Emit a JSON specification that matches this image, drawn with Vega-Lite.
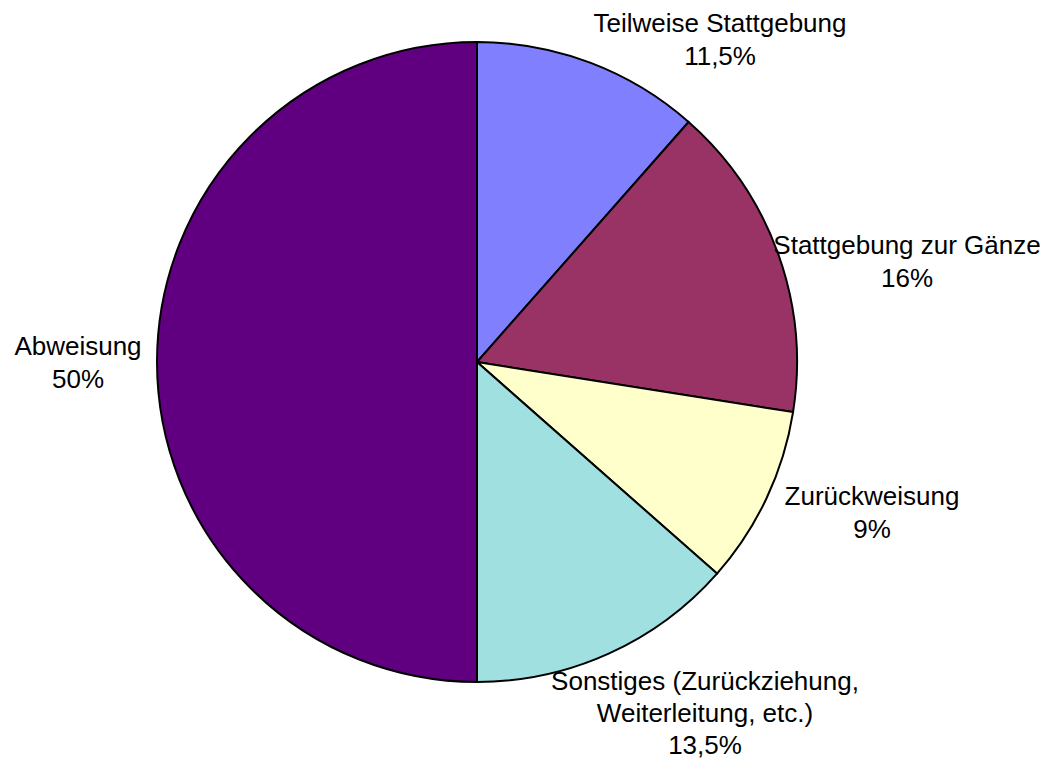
{
  "$schema": "https://vega.github.io/schema/vega-lite/v6.json",
  "width": 954,
  "height": 724,
  "autosize": {"type": "none"},
  "padding": {"left": 0, "top": 0, "right": 98, "bottom": 38},
  "background": "white",
  "config": {"view": {"stroke": null}, "text": {"font": "Liberation Sans"}},
  "data": {
    "values": [
      {"category": "Teilweise Stattgebung", "label": "Teilweise Stattgebung\n11,5%", "value": 11.5, "idx": 1},
      {"category": "Stattgebung zur Gänze", "label": "Stattgebung zur Gänze\n16%", "value": 16, "idx": 2},
      {"category": "Zurückweisung", "label": "Zurückweisung\n9%", "value": 9, "idx": 3},
      {"category": "Sonstiges", "label": "Sonstiges (Zurückziehung,\nWeiterleitung, etc.)\n13,5%", "value": 13.5, "idx": 4},
      {"category": "Abweisung", "label": "Abweisung\n50%", "value": 50, "idx": 5}
    ]
  },
  "encoding": {
    "theta": {"field": "value", "type": "quantitative", "stack": true},
    "order": {"field": "idx", "type": "quantitative"}
  },
  "layer": [
    {
      "mark": {"type": "arc", "outerRadius": 320, "stroke": "black", "strokeWidth": 2},
      "encoding": {
        "color": {
          "field": "category",
          "type": "nominal",
          "scale": {
            "domain": ["Teilweise Stattgebung", "Stattgebung zur Gänze", "Zurückweisung", "Sonstiges", "Abweisung"],
            "range": ["#8080FF", "#993366", "#FFFFCC", "#A0E0E0", "#600080"]
          },
          "legend": null
        }
      }
    },
    {
      "mark": {"type": "text", "radius": 416.7, "thetaOffset": 0.2614, "lineBreak": "\n", "fontSize": 26, "lineHeight": 33, "align": "center", "baseline": "middle", "color": "black"},
      "encoding": {"text": {"condition": {"test": "datum.category === 'Teilweise Stattgebung'", "field": "label"}, "value": ""}}
    },
    {
      "mark": {"type": "text", "radius": 445.4, "thetaOffset": 0.082, "lineBreak": "\n", "fontSize": 26, "lineHeight": 33, "align": "center", "baseline": "middle", "color": "black"},
      "encoding": {"text": {"condition": {"test": "datum.category === 'Stattgebung zur Gänze'", "field": "label"}, "value": ""}}
    },
    {
      "mark": {"type": "text", "radius": 417.4, "thetaOffset": -0.1105, "lineBreak": "\n", "fontSize": 26, "lineHeight": 33, "align": "center", "baseline": "middle", "color": "black"},
      "encoding": {"text": {"condition": {"test": "datum.category === 'Zurückweisung'", "field": "label"}, "value": ""}}
    },
    {
      "mark": {"type": "text", "radius": 393.3, "thetaOffset": -0.1943, "lineBreak": "\n", "fontSize": 26, "lineHeight": 32, "align": "center", "baseline": "middle", "color": "black"},
      "encoding": {"text": {"condition": {"test": "datum.category === 'Sonstiges'", "field": "label"}, "value": ""}}
    },
    {
      "mark": {"type": "text", "radius": 399.3, "thetaOffset": 0.0376, "lineBreak": "\n", "fontSize": 26, "lineHeight": 33, "align": "center", "baseline": "middle", "color": "black"},
      "encoding": {"text": {"condition": {"test": "datum.category === 'Abweisung'", "field": "label"}, "value": ""}}
    }
  ]
}
